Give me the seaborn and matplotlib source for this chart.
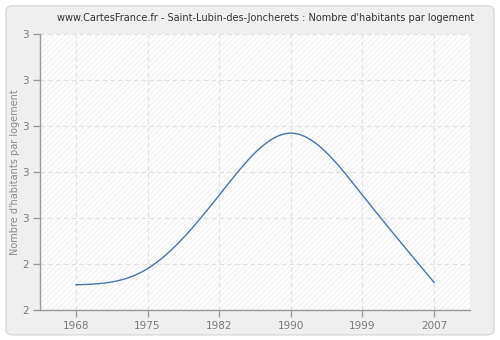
import numpy as np
import pandas as pd
import matplotlib
matplotlib.use("Agg")
import matplotlib.pyplot as plt
import seaborn as sns
from matplotlib.patches import FancyBboxPatch, Rectangle

# ---- data ----
years = ["1968", "1975", "1982", "1990", "1999", "2007"]
values = [2.31, 2.38, 2.70, 2.97, 2.70, 2.32]
y_ticks = [2.2, 2.4, 2.6, 2.8, 3.0, 3.2, 3.4]
title = "www.CartesFrance.fr - Saint-Lubin-des-Joncherets : Nombre d'habitants par logement"
ylabel = "Nombre d'habitants par logement"


def natural_spline(x, y, n=400):
    x = np.asarray(x, float)
    y = np.asarray(y, float)
    k = len(x)
    h = np.diff(x)
    A = np.zeros((k, k))
    b = np.zeros(k)
    A[0, 0] = 1
    A[-1, -1] = 1
    for i in range(1, k - 1):
        A[i, i - 1] = h[i - 1]
        A[i, i] = 2 * (h[i - 1] + h[i])
        A[i, i + 1] = h[i]
        b[i] = 6 * ((y[i + 1] - y[i]) / h[i] - (y[i] - y[i - 1]) / h[i - 1])
    M = np.linalg.solve(A, b)
    xs = np.linspace(x[0], x[-1], n)
    ys = np.empty_like(xs)
    for j, xv in enumerate(xs):
        i = min(np.searchsorted(x, xv, side="right") - 1, k - 2)
        t1 = x[i + 1] - xv
        t0 = xv - x[i]
        ys[j] = (M[i] * t1 ** 3 / (6 * h[i]) + M[i + 1] * t0 ** 3 / (6 * h[i])
                 + (y[i] / h[i] - M[i] * h[i] / 6) * t1
                 + (y[i + 1] / h[i] - M[i + 1] * h[i] / 6) * t0)
    return xs, ys


sns.set_theme(style="white")
plt.rcParams["font.family"] = ["DejaVu Sans"]

fig = plt.figure(figsize=(5, 3.4), dpi=100)
fig.patch.set_facecolor("white")
bg = FancyBboxPatch((0.012, 0.015), 0.976, 0.968,
                    boxstyle="round,pad=0,rounding_size=0.015",
                    transform=fig.transFigure, facecolor="#efefef",
                    edgecolor="#d9d9d9", linewidth=1, zorder=-10)
fig.patches.append(bg)

ax = fig.add_axes([0.08, 0.088, 0.86, 0.811])
ax.set_zorder(1)
ax.set_facecolor("white")
ax.add_patch(Rectangle((0, 0), 1, 1, transform=ax.transAxes, facecolor="#fdfdfd",
                       edgecolor="#f3f3f3", hatch="//////", linewidth=0, zorder=0))

pos = np.arange(len(years))
xs, ys = natural_spline(pos, values)
df = pd.DataFrame({"x": xs, "y": ys})
sns.lineplot(data=df, x="x", y="y", ax=ax, color="#4a76a8", linewidth=1.0, zorder=3)

ax.set_xlim(-0.5, len(years) - 0.5)
ax.set_ylim(y_ticks[0], y_ticks[-1])
ax.set_xticks(pos)
ax.set_xticklabels(years)
ax.set_yticks(y_ticks)
ax.set_yticklabels(["%.0f" % v for v in y_ticks])
ax.set_xlabel("")
ax.set_ylabel(ylabel, color="#8a8a8a", fontsize=7)
ax.yaxis.set_label_coords(-0.047, 0.5)

ax.grid(True, color="#e0e0e0", linestyle=(0, (4, 3)), linewidth=0.8)
ax.set_axisbelow(True)
for s in ["top", "right"]:
    ax.spines[s].set_visible(False)
for s in ["left", "bottom"]:
    ax.spines[s].set_color("#999999")
    ax.spines[s].set_linewidth(1)
ax.tick_params(axis="both", colors="#999999", labelcolor="#7a7a7a", labelsize=7.5,
               length=5, width=1, direction="out", left=True, bottom=True, pad=3)

fig.text(0.532, 0.947, title, ha="center", va="center", fontsize=7.0, color="#333333")

fig.savefig("out.png", dpi=100, facecolor=fig.get_facecolor())
